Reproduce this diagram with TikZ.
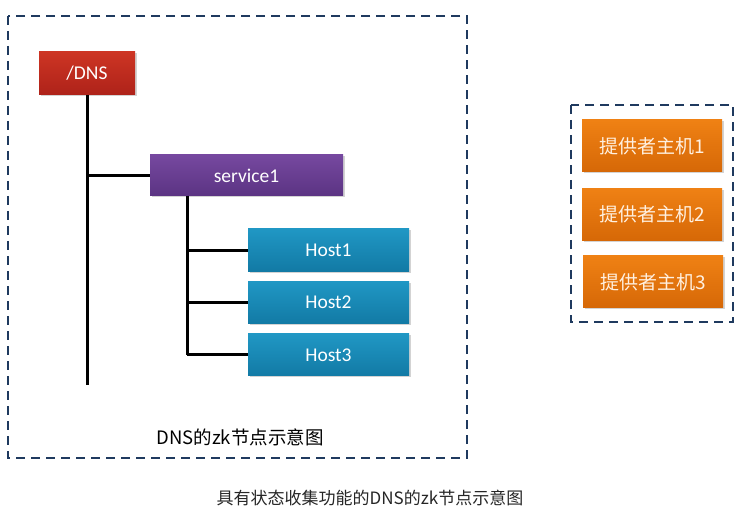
\documentclass[tikz,border=0pt]{standalone}
\usepackage{fontspec}
\setmainfont{Carlito}
\newfontfamily\cjk{Noto Sans CJK SC}
\usetikzlibrary{positioning,shadows,calc}

\definecolor{frameblue}{HTML}{1F3A5F}
\definecolor{dnstop}{HTML}{CD3524}
\definecolor{dnsbottom}{HTML}{AE2219}
\definecolor{svctop}{HTML}{76489F}
\definecolor{svcbottom}{HTML}{5B3483}
\definecolor{hosttop}{HTML}{2097C4}
\definecolor{hostbottom}{HTML}{127AA5}
\definecolor{provtop}{HTML}{EF8114}
\definecolor{provbottom}{HTML}{D66807}
\tikzset{
	>=stealth
}

\begin{document}
\begin{tikzpicture}[
x = 1pt, y = 1pt,
node distance = 10pt,
every node/.style = {
	font = \fontsize{19.5}{22}\selectfont,
	text = white
},
frame/.style = {
	draw = frameblue,
	line width = 1.8pt,
	dash pattern = on 9pt off 6pt
},
box/.style = {
	inner sep = 0pt,
	drop shadow = {opacity = .35, shadow xshift = 1.5pt, shadow yshift = -1.5pt}
},
dnsbox/.style = {
	box,
	top color = dnstop,
	bottom color = dnsbottom,
	minimum width = 96pt,
	minimum height = 43pt
},
servicebox/.style = {
	box,
	top color = svctop,
	bottom color = svcbottom,
	minimum width = 193pt,
	minimum height = 41pt
},
hostbox/.style = {
	box,
	top color = hosttop,
	bottom color = hostbottom,
	minimum width = 161pt,
	minimum height = 42pt
},
providerbox/.style = {
	box,
	top color = provtop,
	bottom color = provbottom,
	minimum width = 140pt,
	minimum height = 52pt,
	font = \cjk\fontsize{19}{22}\selectfont,
	text = orange!12!white
},
tree/.style = {
	draw,
	line width = 3pt
}
]
\useasboundingbox (0,0) rectangle (738,-529);

% dashed frames
\draw [frame] (8,-16) rectangle (467,-458);
\draw [frame] (571,-105) rectangle (733,-322);

% zk tree
\node (node_dns) [dnsbox] at (87,-73.5) {/DNS};
\node (node_service) [servicebox] at (246.5,-175.5) {service1};
\node (host_1) [hostbox] at (328.5,-250) {Host1};
\node (host_2) [hostbox, below = of host_1] {Host2};
\node (host_3) [hostbox, below = of host_2] {Host3};

\coordinate (dns_end) at (87,-385);
\coordinate (svc_root) at (187,-196);
\coordinate (svc_end) at (svc_root |- host_3.west);

\draw [tree] (node_dns.south) -- (dns_end);
\draw [tree] (node_dns |- node_service.west) -- (node_service.west);
\draw [tree] (svc_root) -- (svc_end);
\foreach \i in {1,2,3}
	\draw [tree] (svc_root |- host_\i.west) -- (host_\i.west);

\node (tree_label) [text = black, font = \cjk\fontsize{18.5}{22}\selectfont] at (240,-437) {DNS的zk节点示意图};

% providers
\node (provider_1) [providerbox] at (652,-146) {提供者主机1};
\node (provider_2) [providerbox, below = 16pt of provider_1] {提供者主机2};
\node (provider_3) [providerbox, below = 15pt of provider_2, xshift = 1pt] {提供者主机3};

\node (caption) [text = black!85, font = \cjk\fontsize{17}{20}\selectfont] at (370,-498) {具有状态收集功能的DNS的zk节点示意图};
\end{tikzpicture}
\end{document}
